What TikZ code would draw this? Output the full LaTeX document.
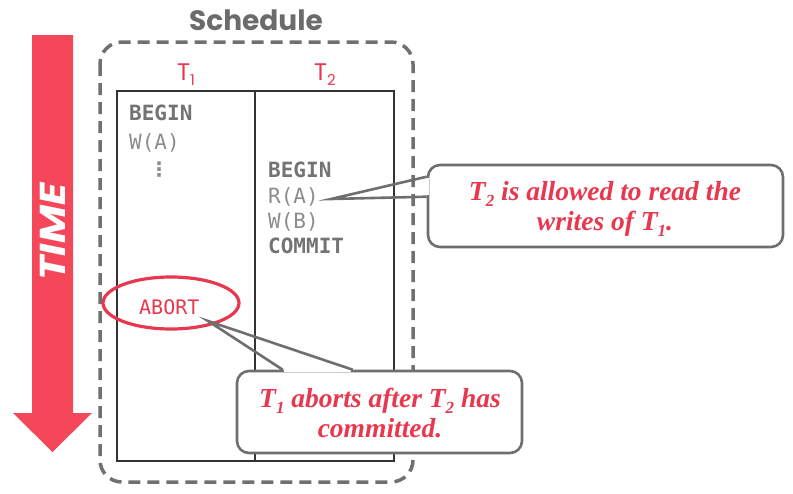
\documentclass[tikz,border=0pt]{standalone}
\usepackage{fontspec}
\usetikzlibrary{shapes.geometric,calc}
\setmainfont{Liberation Serif}
\newfontfamily\headfont{Poppins}
\newfontfamily\timefont[FakeStretch=1.15]{Poppins}
\newfontfamily\codefont{DejaVu Sans Mono}
\newfontfamily\symfont{DejaVu Sans}

\definecolor{accent}{HTML}{E8384F}
\definecolor{arrowred}{HTML}{F4485A}
\definecolor{titlegray}{HTML}{6B6B6B}
\definecolor{framegray}{HTML}{707070}
\definecolor{outlinegray}{HTML}{6E6E6E}
\definecolor{codedark}{HTML}{737373}
\definecolor{codelite}{HTML}{8C8C8C}

% lowered index for the italic transaction names
\newcommand\lowidx[1]{\raisebox{-.24em}{\fontsize{17}{17}\selectfont #1}}
% lowered index for the column headings
\newcommand\headidx[1]{\raisebox{-5pt}{\fontsize{15}{15}\selectfont #1}}

\begin{document}
\begin{tikzpicture}[x=1pt,y=-1pt,
  codebold/.style={font=\codefont\bfseries\fontsize{21}{25}\selectfont, text=codedark, anchor=base west, inner sep=0pt},
  codelight/.style={font=\codefont\fontsize{21}{25}\selectfont, text=codelite, anchor=base west, inner sep=0pt},
  colhead/.style={font=\headfont\fontsize{24}{24}\selectfont, text=accent, anchor=base, inner sep=0pt},
  calloutbox/.style={draw=outlinegray, line width=2.6pt, fill=white, rounded corners=12pt, inner sep=0pt},
  callouttext/.style={font=\bfseries\itshape\fontsize{27.5}{30}\selectfont, text=accent, anchor=base, inner sep=0pt},
  pointer/.style={draw=outlinegray, line width=2.6pt, line join=miter}
]
\useasboundingbox (0,0) rectangle (793,493);

% time axis
\fill[arrowred] (32,35) -- (73,35) -- (73,413) -- (92,413) -- (52.5,452)
  -- (13,413) -- (32,413) -- cycle;
\node[rotate=90, inner sep=0pt, font=\timefont\bfseries\itshape\fontsize{36}{36}\selectfont, text=white]
  (time) at (53,232) {TIME};

% schedule frame
\node[font=\headfont\bfseries\fontsize{28}{28}\selectfont, text=titlegray, inner sep=0pt]
  (title) at (256,20) {Schedule};
\draw[framegray, line width=3.5pt, dash pattern=on 12pt off 7pt, rounded corners=22pt]
  (100,42) rectangle (413,482);

% two-column table
\draw[black!80, line width=1.1pt] (117,91) rectangle (394,461);
\draw[black!80, line width=1.1pt] (255,91) -- (255,461);

\node[colhead] (h1) at (186,80) {T\headidx{1}};
\node[colhead] (h2) at (325,80) {T\headidx{2}};

% T1 operations
\node[codebold]  (b1) at (129,120) {BEGIN};
\node[codelight] (w1) at (129,149) {W(A)};
\node[font=\symfont\bfseries\fontsize{20}{24}\selectfont, text=codelite, anchor=base, inner sep=0pt]
  (dots) at (159,176) {⋮};
\node[font=\codefont\fontsize{20}{24}\selectfont, text=accent, anchor=base west, inner sep=0pt]
  (abort) at (139,314) {ABORT};
\node[draw=accent, line width=3.2pt, ellipse, minimum width=136pt, minimum height=52pt, inner sep=0pt]
  (ring) at (171,303) {};

% T2 operations
\node[codebold]  (b2) at (268,177) {BEGIN};
\node[codelight] (r2) at (268,203) {R(A)};
\node[codelight] (w2) at (268,228) {W(B)};
\node[codebold]  (c2) at (268,253) {COMMIT};

% pointer ends
\coordinate (ratip) at (331,199);
\coordinate (ringtip) at (208,321);

% first note
\node[calloutbox, minimum width=355pt, minimum height=82pt] (note1) at (605.5,206) {};
\node[callouttext] (note1a) at (605,200) {T\lowidx{2} is allowed to read the};
\node[callouttext] (note1b) at (605,230) {writes of T\lowidx{1}.};
\draw[white, line width=4pt] ($(note1.north west)+(0,14.5)$) -- ($(note1.north west)+(0,31.5)$);
\draw[pointer] ($(note1.north west)+(0,13)$) -- (ratip) -- ($(note1.north west)+(0,33)$);

% second note
\node[calloutbox, minimum width=285pt, minimum height=82pt] (note2) at (379.5,412) {};
\node[callouttext] (note2a) at (380,407) {T\lowidx{1} aborts after T\lowidx{2} has};
\node[callouttext] (note2b) at (380,437) {committed.};
\draw[white, line width=4pt] ($(note2.north west)+(48.5,0)$) -- ($(note2.north west)+(115.5,0)$);
\draw[pointer] ($(note2.north west)+(47,0)$) -- (ringtip) -- ($(note2.north west)+(117,0)$);

\end{tikzpicture}
\end{document}
